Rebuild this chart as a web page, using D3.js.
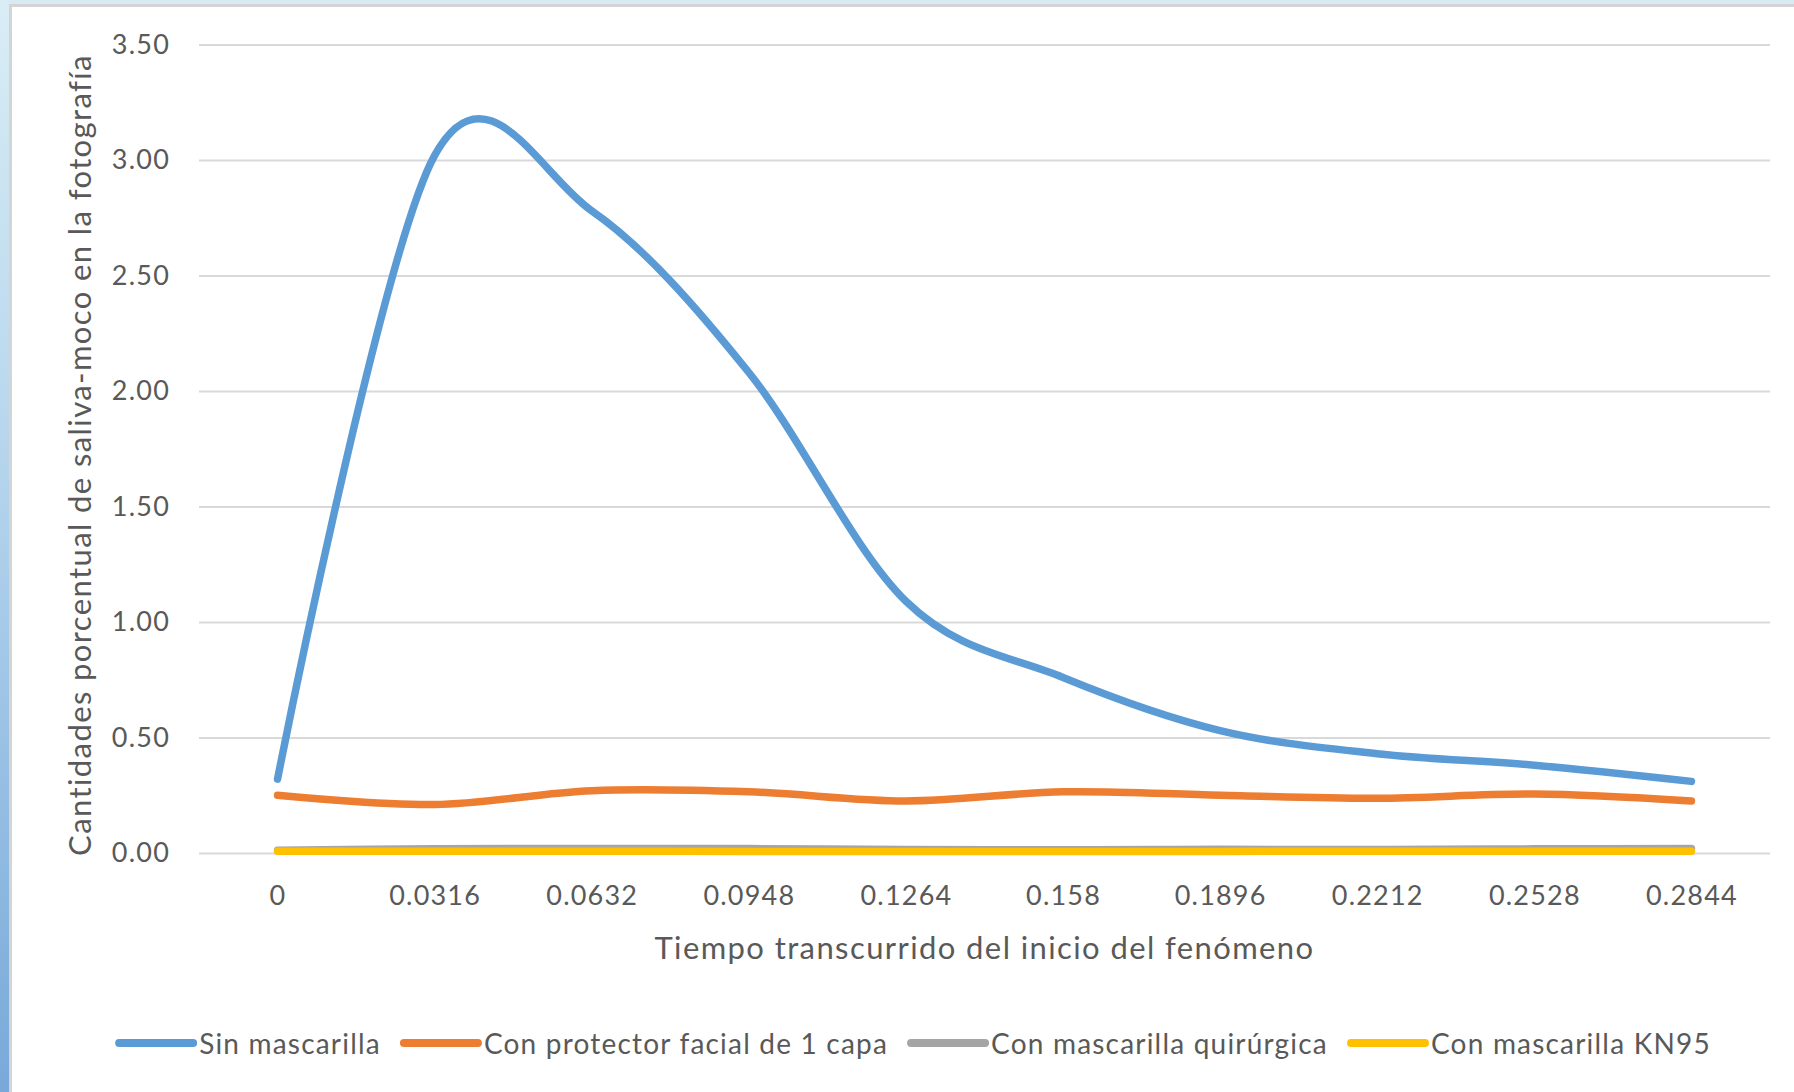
<!DOCTYPE html>
<html>
<head>
<meta charset="utf-8">
<script src="https://cdn.jsdelivr.net/npm/d3@7"></script>
<style>
  html, body { margin: 0; padding: 0; background: #ffffff; }
  svg { display: block; }
  text { font-family: Lato, "Open Sans", sans-serif; fill: #595959; }
</style>
</head>
<body>
<svg id="chart" width="1794" height="1092"></svg>
<script>
// Tiempo transcurrido (categorías del eje X)
const categories = ["0", "0.0316", "0.0632", "0.0948", "0.1264", "0.158", "0.1896", "0.2212", "0.2528", "0.2844"];

// Cantidad porcentual de saliva-moco por condición
const sinMascarilla = [0.32, 3.02, 2.78, 2.08, 1.09, 0.76, 0.53, 0.43, 0.38, 0.31];
const protectorFacial = [0.25, 0.21, 0.27, 0.265, 0.225, 0.265, 0.25, 0.237, 0.255, 0.225];
const mascarillaQuirurgica = [0.012, 0.018, 0.02, 0.019, 0.015, 0.014, 0.016, 0.015, 0.018, 0.02];
const mascarillaKN95 = [0.008, 0.008, 0.008, 0.007, 0.007, 0.007, 0.007, 0.008, 0.008, 0.008];

const seriesNames = ["Sin mascarilla", "Con protector facial de 1 capa", "Con mascarilla quirúrgica", "Con mascarilla KN95"];
const seriesColors = ["#5B9BD5", "#ED7D31", "#A5A5A5", "#FFC000"];
const yTicks = [0, 0.5, 1.0, 1.5, 2.0, 2.5, 3.0, 3.5];

const xTitle = "Tiempo transcurrido del inicio del fenómeno";
const yTitle = "Cantidades porcentual de saliva-moco en la fotografía";

const svg = d3.select("#chart");
const W = 1794, H = 1092;

// window frame: light blue top strip and a blue gradient down the left edge
const defs = svg.append("defs");
const grad = defs.append("linearGradient").attr("id", "edge").attr("x1", 0).attr("y1", 0).attr("x2", 0).attr("y2", 1);
grad.append("stop").attr("offset", "0%").attr("stop-color", "#d9edf5");
grad.append("stop").attr("offset", "45%").attr("stop-color", "#b3d3ec");
grad.append("stop").attr("offset", "100%").attr("stop-color", "#78a9d9");

svg.append("rect").attr("x", 0).attr("y", 0).attr("width", W).attr("height", 4).attr("fill", "#d8ebf3");
svg.append("rect").attr("x", 0).attr("y", 0).attr("width", 9).attr("height", H).attr("fill", "url(#edge)");
svg.append("rect").attr("x", 9).attr("y", 4).attr("width", W - 9).attr("height", H - 4).attr("fill", "#d4d4d4");
svg.append("rect").attr("x", 12).attr("y", 7).attr("width", W - 12).attr("height", H - 7).attr("fill", "#ffffff");

// plot area
const plotLeft = 199, plotRight = 1770, plotTop = 44.5, plotBottom = 853;

const x = d3.scalePoint().domain(categories).range([plotLeft, plotRight]).padding(0.5);
const y = d3.scaleLinear().domain([0, 3.5]).range([plotBottom, plotTop]);

// horizontal gridlines with value labels
const yAxis = d3.axisLeft(y)
  .tickValues(yTicks)
  .tickFormat(d3.format(".2f"))
  .tickSizeInner(-(plotRight - plotLeft))
  .tickSizeOuter(0)
  .tickPadding(29);

const gy = svg.append("g").attr("transform", `translate(${plotLeft},0)`).call(yAxis);
gy.select(".domain").remove();
gy.selectAll(".tick line").attr("stroke", "#d9d9d9").attr("stroke-width", 2.2);
gy.selectAll(".tick text")
  .style("font-size", "27px")
  .style("letter-spacing", "1.2px")
  .attr("fill", "#595959");

// category labels along the bottom
const xAxis = d3.axisBottom(x).tickSize(0).tickPadding(0);
const gx = svg.append("g").attr("transform", `translate(0,${plotBottom})`).call(xAxis);
gx.select(".domain").remove();
gx.selectAll(".tick text")
  .attr("dy", null)
  .attr("y", 41)
  .attr("dominant-baseline", "central")
  .style("font-size", "27px")
  .style("letter-spacing", "1.2px")
  .attr("fill", "#595959");

// smoothed series lines (KN95 drawn last, on top)
const line = d3.line()
  .x((d, i) => x(categories[i]))
  .y(d => y(d))
  .curve(d3.curveCatmullRom.alpha(0));

const allSeries = [sinMascarilla, protectorFacial, mascarillaQuirurgica, mascarillaKN95];
const order = [0, 1, 2, 3];
svg.append("g").selectAll("path")
  .data(order)
  .join("path")
  .attr("d", k => line(allSeries[k]))
  .attr("fill", "none")
  .attr("stroke", k => seriesColors[k])
  .attr("stroke-width", 7.5)
  .attr("stroke-linecap", "round")
  .attr("stroke-linejoin", "round");

// axis titles
svg.append("text")
  .attr("x", (plotLeft + plotRight) / 2)
  .attr("y", 947)
  .attr("text-anchor", "middle")
  .attr("dominant-baseline", "central")
  .style("font-size", "31px")
  .style("letter-spacing", "1.4px")
  .text(xTitle);

svg.append("text")
  .attr("transform", `translate(79,455) rotate(-90)`)
  .attr("text-anchor", "middle")
  .attr("dominant-baseline", "central")
  .style("font-size", "31px")
  .style("letter-spacing", "1.4px")
  .text(yTitle);

// legend, centred below the plot
const legendY = 1043;
const lineLen = 74, gapText = 6, gapItem = 23;
const legend = svg.append("g");
const items = legend.selectAll("g").data(seriesNames).join("g");
items.append("line")
  .attr("x1", 0).attr("x2", lineLen)
  .attr("y1", 0).attr("y2", 0)
  .attr("stroke", (d, i) => seriesColors[i])
  .attr("stroke-width", 8)
  .attr("stroke-linecap", "round");
items.append("text")
  .attr("x", lineLen + gapText)
  .attr("y", 0)
  .attr("dominant-baseline", "central")
  .style("font-size", "28px")
  .style("letter-spacing", "1.2px")
  .text(d => d);

let cursor = 0;
const offsets = [];
items.each(function () {
  offsets.push(cursor);
  const tw = d3.select(this).select("text").node().getComputedTextLength();
  cursor += lineLen + gapText + tw + gapItem;
});
const total = cursor - gapItem;
const startX = 915 - total / 2;
items.attr("transform", (d, i) => `translate(${startX + offsets[i]},${legendY})`);
</script>
</body>
</html>
